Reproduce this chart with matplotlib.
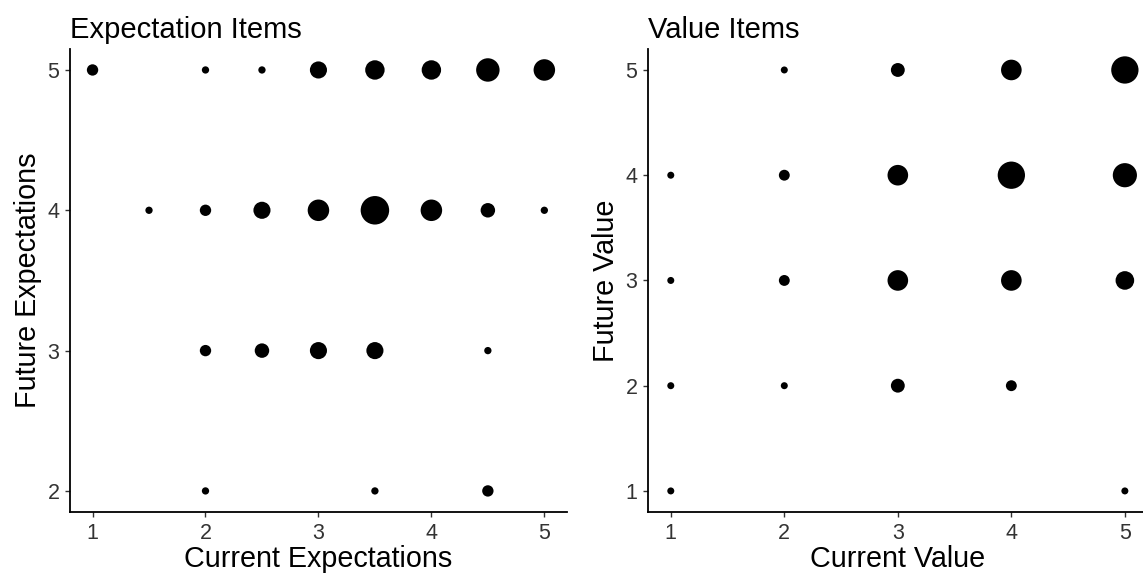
import numpy as np
import matplotlib
matplotlib.use("Agg")
import matplotlib.pyplot as plt

plt.rcParams['font.family'] = ['Liberation Sans', 'DejaVu Sans']

# Expectation items: current vs future, with counts
exp_current = [1, 2, 2.5, 3, 3.5, 4, 4.5, 5,
               1.5, 2, 2.5, 3, 3.5, 4, 4.5, 5,
               2, 2.5, 3, 3.5, 4.5,
               2, 3.5, 4.5]
exp_future = [5, 5, 5, 5, 5, 5, 5, 5,
              4, 4, 4, 4, 4, 4, 4, 4,
              3, 3, 3, 3, 3,
              2, 2, 2]
exp_count = [2, 1, 1, 4, 5, 5, 7, 6,
             1, 2, 4, 6, 10, 6, 3, 1,
             2, 3, 4, 4, 1,
             1, 1, 2]

# Value items: current vs future, with counts
val_current = [2, 3, 4, 5,
               1, 2, 3, 4, 5,
               1, 2, 3, 4, 5,
               1, 2, 3, 4,
               1, 5]
val_future = [5, 5, 5, 5,
              4, 4, 4, 4, 4,
              3, 3, 3, 3, 3,
              2, 2, 2, 2,
              1, 1]
val_count = [1, 3, 6, 10,
             1, 2, 6, 10, 8,
             1, 2, 6, 6, 5,
             1, 1, 3, 2,
             1, 1]


# 개수를 점 크기(pt^2)로 바꾸는 함수 (ggplot 처럼 sqrt 스케일)
def count_to_size(counts, dmin=7.3, dmax=28.5):
    c = np.sqrt(np.asarray(counts, dtype=float))
    d = dmin + (dmax - dmin) * (c - c.min()) / (c.max() - c.min())
    return (d * 0.72) ** 2


def style_axes(ax):
    for side in ['top', 'right']:
        ax.spines[side].set_visible(False)
    for side in ['left', 'bottom']:
        ax.spines[side].set_linewidth(1.3)
        ax.spines[side].set_color('black')
    ax.tick_params(axis='both', length=3.6, width=1, color='#333333',
                   labelsize=15.5, labelcolor='#333333', pad=4)


fig = plt.figure(figsize=(11.43, 5.81), dpi=100)
ax1 = fig.add_axes([0.0612, 0.1188, 0.4348, 0.797])
ax2 = fig.add_axes([0.567, 0.1188, 0.437, 0.797])

# 왼쪽: Expectation Items
ax1.scatter(exp_current, exp_future, s=count_to_size(exp_count),
            color='black', linewidths=0, clip_on=False)
ax1.set_xlim(0.8, 5.2)
ax1.set_ylim(1.85, 5.15)
ax1.set_xticks([1, 2, 3, 4, 5])
ax1.set_yticks([2, 3, 4, 5])
ax1.set_xlabel('Current Expectations', fontsize=20.7, labelpad=1)
ax1.set_ylabel('Future Expectations', fontsize=20.7, labelpad=4)
ax1.set_title('Expectation Items', fontsize=21, loc='left', pad=8)
style_axes(ax1)

# 오른쪽: Value Items
ax2.scatter(val_current, val_future, s=count_to_size(val_count, 7.0, 27.3),
            color='black', linewidths=0, clip_on=False)
ax2.set_xlim(0.8, 5.2)
ax2.set_ylim(0.8, 5.2)
ax2.set_xticks([1, 2, 3, 4, 5])
ax2.set_yticks([1, 2, 3, 4, 5])
ax2.set_xlabel('Current Value', fontsize=20.7, labelpad=1)
ax2.set_ylabel('Future Value', fontsize=20.7, labelpad=4)
ax2.set_title('Value Items', fontsize=21, loc='left', pad=8)
style_axes(ax2)

fig.savefig('out.png', dpi=100)
